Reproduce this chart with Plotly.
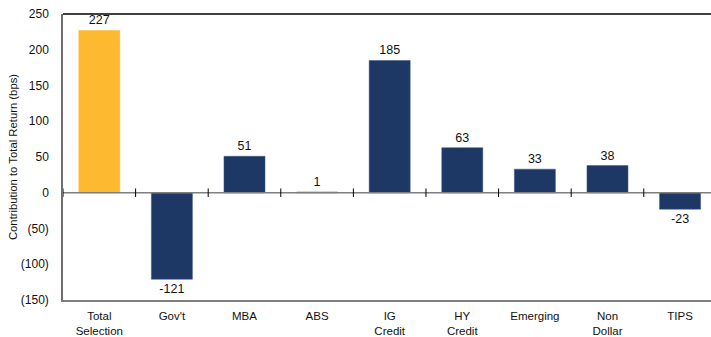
import plotly.graph_objects as go

# Contribution to total return by sector selection (bps)
categories = ["Total<br>Selection", "Gov't", "MBA", "ABS", "IG<br>Credit",
              "HY<br>Credit", "Emerging", "Non<br>Dollar", "TIPS"]
values = [227, -121, 51, 1, 185, 63, 33, 38, -23]
bar_colors = ["#FDB92F"] + ["#1D3864"] * 8
edge_colors = ["#FDB92F"] + ["#3a5580"] * 8

y_tickvals = [250, 200, 150, 100, 50, 0, -50, -100, -150]
y_ticktext = ["250", "200", "150", "100", "50", "0", "(50)", "(100)", "(150)"]

FONT = "Liberation Sans, Arial, sans-serif"

fig = go.Figure()
fig.add_trace(go.Bar(
    x=list(range(len(categories))),
    y=values,
    marker=dict(color=bar_colors, line=dict(color=edge_colors, width=0.5)),
    width=0.565,
    text=[str(v) for v in values],
    textposition="outside",
    textfont=dict(family=FONT, size=12.5, color="#111"),
    cliponaxis=False,
))

# zero baseline with category separator ticks, plus top frame line
shapes = [
    dict(type="line", xref="paper", yref="y", x0=0, x1=1, y0=0, y1=0,
         line=dict(color="#7f7f7f", width=1.5)),
    dict(type="line", xref="paper", yref="paper", x0=0, x1=1, y0=1, y1=1,
         line=dict(color="#000", width=1.5)),
]
for i in range(len(categories)):
    shapes.append(dict(type="line", xref="x", yref="y", x0=i - 0.5, x1=i - 0.5,
                       y0=-6, y1=6, line=dict(color="#000", width=1)))
fig.update_layout(shapes=shapes)

fig.update_layout(
    width=711, height=337,
    margin=dict(l=63, r=0, t=14, b=37),
    plot_bgcolor="white", paper_bgcolor="white",
    showlegend=False,
    font=dict(family=FONT, size=12, color="#111"),
    xaxis=dict(
        range=[-0.5, 8.426],
        tickvals=list(range(len(categories))),
        ticktext=categories,
        showline=True, linecolor="#7f7f7f", linewidth=1.5,
        showgrid=False, zeroline=False, ticks="",
        ticklabelstandoff=4,
        tickfont=dict(family=FONT, size=11.5, color="#111"),
    ),
    yaxis=dict(
        range=[-150, 250],
        tickvals=y_tickvals, ticktext=y_ticktext,
        showline=True, linecolor="#6f6f6f", linewidth=1.5,
        showgrid=False, zeroline=False, ticks="",
        ticklabelstandoff=10,
        tickfont=dict(family=FONT, size=12, color="#111"),
        title=dict(text="Contribution to Total Return (bps)",
                   font=dict(family=FONT, size=11.3, color="#111"), standoff=1),
    ),
)

fig.write_html("out.html")
